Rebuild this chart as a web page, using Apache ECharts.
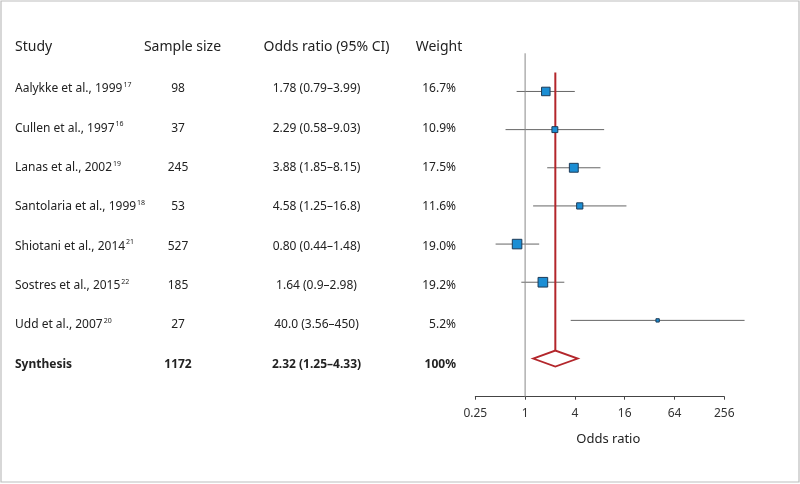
<!DOCTYPE html>
<html>
<head>
<meta charset="utf-8">
<script src="https://cdn.jsdelivr.net/npm/echarts@6/dist/echarts.min.js"></script>
<style>
html,body{margin:0;padding:0;background:#fff;}
#chart{width:800px;height:484px;}
</style>
</head>
<body>
<div id="chart"></div>
<script>
// ---- data ----
const headers = ['Study', 'Sample size', 'Odds ratio (95% CI)', 'Weight'];
const studies = ['Aalykke et al., 1999', 'Cullen et al., 1997', 'Lanas et al., 2002', 'Santolaria et al., 1999', 'Shiotani et al., 2014', 'Sostres et al., 2015', 'Udd et al., 2007'];
const refs = ['17', '16', '19', '18', '21', '22', '20'];
const sampleSize = [98, 37, 245, 53, 527, 185, 27];
const oddsRatio = [1.78, 2.29, 3.88, 4.58, 0.80, 1.64, 40.0];
const ciLow = [0.79, 0.58, 1.85, 1.25, 0.44, 0.9, 3.56];
const ciHigh = [3.99, 9.03, 8.15, 16.8, 1.48, 2.98, 450];
const orLabels = ['1.78 (0.79–3.99)', '2.29 (0.58–9.03)', '3.88 (1.85–8.15)', '4.58 (1.25–16.8)', '0.80 (0.44–1.48)', '1.64 (0.9–2.98)', '40.0 (3.56–450)'];
const weight = [16.7, 10.9, 17.5, 11.6, 19.0, 19.2, 5.2];
const synthLabel = 'Synthesis';
const synthN = 1172;
const synthOR = 2.32, synthLow = 1.25, synthHigh = 4.33;
const synthORLabel = '2.32 (1.25–4.33)';
const synthWeight = '100%';
const xTicks = [0.25, 1, 4, 16, 64, 256];
const xName = 'Odds ratio';

// ---- layout / style ----
const FONT = '"Noto Sans", "DejaVu Sans", sans-serif';
const TXT = '#222';
const BLUE = '#1b8ed4';
const RED = '#b3262b';
const col = { study: 15, nHead: 182.5, nVal: 178, orHead: 326.5, orVal: 316.5, wHead: 439, wVal: 456 };
const synthRow = studies.length;

function txt(x, y, text, align, bold, size) {
  return {
    type: 'text', x: x, y: y,
    style: {
      text: text, fill: TXT, textAlign: align, textVerticalAlign: 'middle',
      font: (bold ? 'bold ' : '') + (size || 12) + 'px ' + FONT
    }
  };
}

const chart = echarts.init(document.getElementById('chart'), null, { renderer: 'canvas' });

const option = {
  backgroundColor: '#fff',
  animation: false,
  graphic: [{
    type: 'rect', shape: { x: 1, y: 1, width: 798, height: 481 },
    style: { fill: 'none', stroke: '#bdbdbd', lineWidth: 1.2 }, silent: true, z: -10
  }],
  grid: [
    { left: 475.3, right: 75.7, top: 53.3, bottom: 87.3 },
    { left: 0, right: 0, top: 89, bottom: 119.7 }
  ],
  xAxis: [
    {
      gridIndex: 0, type: 'log', logBase: 4, min: xTicks[0], max: xTicks[xTicks.length - 1],
      axisLine: { onZero: false, lineStyle: { color: '#444', width: 1 } },
      axisTick: { length: 3, lineStyle: { color: '#444' } },
      axisLabel: { color: '#333', fontSize: 12, fontFamily: FONT, margin: 11 },
      splitLine: { show: false },
      name: xName, nameLocation: 'middle', nameGap: 36,
      nameTextStyle: { color: TXT, fontSize: 13, fontFamily: FONT, padding: [0, 0, 0, 17] }
    },
    { gridIndex: 1, type: 'value', min: 0, max: 800, show: false }
  ],
  yAxis: [
    { gridIndex: 0, type: 'value', min: -1, max: 8, inverse: true, show: false },
    { gridIndex: 1, type: 'value', min: 0, max: 7, inverse: true, show: false }
  ],
  series: [
    // CI lines
    {
      type: 'custom', xAxisIndex: 0, yAxisIndex: 0, clip: false, z: 2,
      data: studies.map((s, i) => [i, ciLow[i], ciHigh[i]]),
      renderItem: function (params, api) {
        const a = api.coord([api.value(1), api.value(0)]);
        const b = api.coord([api.value(2), api.value(0)]);
        return { type: 'line', shape: { x1: a[0], y1: a[1], x2: b[0], y2: b[1] }, style: { stroke: '#666', lineWidth: 1 } };
      }
    },
    // line of no effect at OR = 1
    {
      type: 'custom', xAxisIndex: 0, yAxisIndex: 0, clip: false, z: 3,
      data: [[1]],
      renderItem: function (params, api) {
        const a = api.coord([api.value(0), -1]);
        const b = api.coord([api.value(0), 8]);
        return { type: 'line', shape: { x1: a[0], y1: a[1], x2: b[0], y2: b[1] }, style: { stroke: '#888', lineWidth: 1 } };
      }
    },
    // pooled estimate line + diamond
    {
      type: 'custom', xAxisIndex: 0, yAxisIndex: 0, clip: false, z: 4,
      data: [[synthRow, synthOR, synthLow, synthHigh]],
      renderItem: function (params, api) {
        const r = api.value(0), o = api.value(1), lo = api.value(2), hi = api.value(3);
        const h = 0.21;
        const top = api.coord([o, r - h]);
        const start = api.coord([o, -0.5]);
        const L = api.coord([lo, r]);
        const R = api.coord([hi, r]);
        const B = api.coord([o, r + h]);
        return {
          type: 'group', children: [
            { type: 'line', shape: { x1: start[0], y1: start[1], x2: top[0], y2: top[1] }, style: { stroke: RED, lineWidth: 2 } },
            { type: 'polygon', shape: { points: [L, top, R, B] }, style: { fill: '#fff', stroke: RED, lineWidth: 1.8 } }
          ]
        };
      }
    },
    // study squares (size scaled by weight)
    {
      type: 'custom', xAxisIndex: 0, yAxisIndex: 0, clip: false, z: 5,
      data: studies.map((s, i) => [i, oddsRatio[i], weight[i]]),
      renderItem: function (params, api) {
        const c = api.coord([api.value(1), api.value(0)]);
        const s = api.value(2) * 0.45 + 1;
        return { type: 'rect', shape: { x: c[0] - s / 2, y: c[1] - s / 2, width: s, height: s }, style: { fill: BLUE, stroke: '#1d3b57', lineWidth: 1 } };
      }
    },
    // table header
    {
      type: 'custom', xAxisIndex: 1, yAxisIndex: 1, clip: false, silent: true,
      data: [[-1.076]],
      renderItem: function (params, api) {
        const y = api.coord([0, api.value(0)])[1];
        const X = (v) => api.coord([v, 0])[0];
        return {
          type: 'group', children: [
            txt(X(col.study), y, headers[0], 'left', false, 14),
            txt(X(col.nHead), y, headers[1], 'center', false, 14),
            txt(X(col.orHead), y, headers[2], 'center', false, 14),
            txt(X(col.wHead), y, headers[3], 'center', false, 14)
          ]
        };
      }
    },
    // table rows
    {
      type: 'custom', xAxisIndex: 1, yAxisIndex: 1, clip: false, silent: true,
      data: studies.map((s, i) => [i]),
      renderItem: function (params, api) {
        const i = params.dataIndex;
        const y = api.coord([0, api.value(0)])[1];
        const X = (v) => api.coord([v, 0])[0];
        const studyText = {
          type: 'text', x: X(col.study), y: y,
          style: {
            text: '{n|' + studies[i] + '}{s|' + refs[i] + '}',
            textAlign: 'left', textVerticalAlign: 'middle',
            rich: {
              n: { fontSize: 12, fontFamily: FONT, fill: TXT, color: TXT, lineHeight: 15 },
              s: { fontSize: 7, fontFamily: FONT, fill: TXT, color: TXT, verticalAlign: 'top', lineHeight: 8, padding: [0, 0, 0, 1] }
            }
          }
        };
        return {
          type: 'group', children: [
            studyText,
            txt(X(col.nVal), y, String(sampleSize[i]), 'center'),
            txt(X(col.orVal), y, orLabels[i], 'center'),
            txt(X(col.wVal), y, weight[i].toFixed(1) + '%', 'right')
          ]
        };
      }
    },
    // synthesis row
    {
      type: 'custom', xAxisIndex: 1, yAxisIndex: 1, clip: false, silent: true,
      data: [[synthRow]],
      renderItem: function (params, api) {
        const y = api.coord([0, api.value(0)])[1];
        const X = (v) => api.coord([v, 0])[0];
        return {
          type: 'group', children: [
            txt(X(col.study), y, synthLabel, 'left', true),
            txt(X(col.nVal), y, String(synthN), 'center', true),
            txt(X(col.orVal), y, synthORLabel, 'center', true),
            txt(X(col.wVal), y, synthWeight, 'right', true)
          ]
        };
      }
    }
  ]
};
chart.setOption(option);
</script>
</body>
</html>
